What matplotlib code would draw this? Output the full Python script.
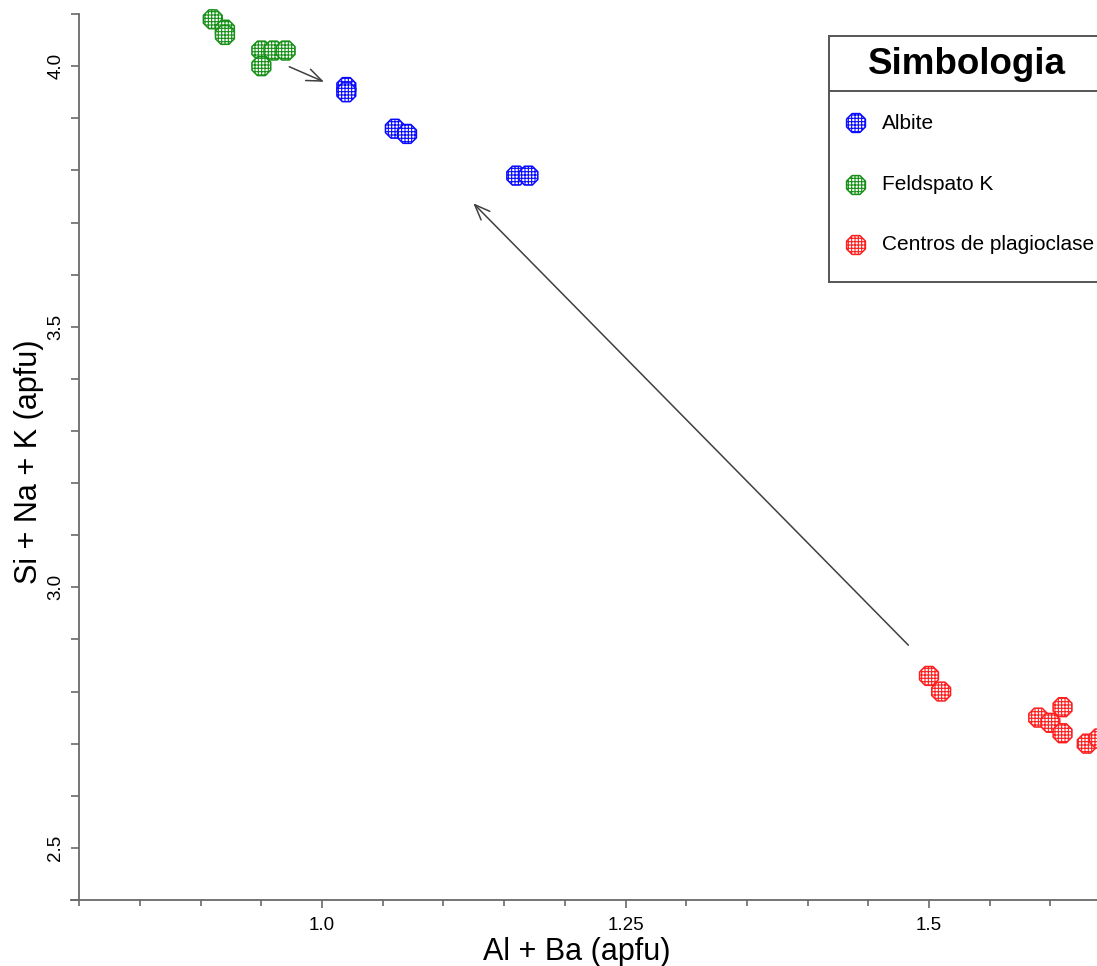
import matplotlib
matplotlib.use("Agg")
import matplotlib.pyplot as plt
from matplotlib.ticker import MultipleLocator, FixedLocator

plt.rcParams['font.family'] = ['Liberation Sans', 'DejaVu Sans']
plt.rcParams['hatch.linewidth'] = 0.8

# Feldspar analyses (apfu)
albite_x = [1.02, 1.02, 1.06, 1.07, 1.16, 1.17]
albite_y = [3.96, 3.95, 3.88, 3.87, 3.79, 3.79]
kfs_x = [0.91, 0.92, 0.92, 0.95, 0.96, 0.97, 0.95]
kfs_y = [4.09, 4.07, 4.06, 4.03, 4.03, 4.03, 4.00]
plag_x = [1.50, 1.51, 1.59, 1.60, 1.61, 1.61, 1.63, 1.64]
plag_y = [2.83, 2.80, 2.75, 2.74, 2.77, 2.72, 2.70, 2.71]

series_names = ["Albite", "Feldspato K", "Centros de plagioclase"]
series_colors = ["#0a0aff", "#179017", "#ff1e1e"]

x_major_ticks = [1.0, 1.25, 1.5]
x_major_labels = ["1.0", "1.25", "1.5"]
y_major_ticks = [2.5, 3.0, 3.5, 4.0]
y_major_labels = ["2.5", "3.0", "3.5", "4.0"]

# trend arrows: (tail, head)
arrow_kfs = ((0.973, 3.999), (1.0016, 3.970))
arrow_plag = ((1.483, 2.889), (1.1246, 3.737))

W, H = 1097, 966
AXC = "#6a6a6a"
fig = plt.figure(figsize=(W / 100, H / 100), dpi=100)
ax = fig.add_axes([71 / W, 66 / H, 1 - 71 / W, 1 - 66 / H])
ax.set_xlim(0.7932, 1.6384)
ax.set_ylim(2.4, 4.127)

for s in ("top", "right"):
    ax.spines[s].set_visible(False)
for s in ("left", "bottom"):
    ax.spines[s].set_color(AXC)
    ax.spines[s].set_linewidth(1.3)
ax.spines["left"].set_position(("data", 0.8))
ax.spines["left"].set_bounds(2.4, 4.1)

ax.xaxis.set_major_locator(FixedLocator(x_major_ticks))
ax.set_xticklabels(x_major_labels)
ax.xaxis.set_minor_locator(MultipleLocator(0.05))
ax.yaxis.set_major_locator(FixedLocator(y_major_ticks))
ax.set_yticklabels(y_major_labels)
ax.yaxis.set_minor_locator(FixedLocator([2.4 + 0.1 * i for i in range(18)]))

ax.tick_params(axis="x", which="major", length=5.5, width=1.2, color=AXC,
               labelsize=13.5, pad=6.5)
ax.tick_params(axis="x", which="minor", length=4.5, width=1.2, color=AXC)
ax.tick_params(axis="y", which="both", length=5.8, width=1.2, color=AXC,
               labelsize=13.5, pad=5, labelrotation=90)
for lab in ax.get_yticklabels():
    lab.set_va("center")

ax.set_xlabel("Al + Ba (apfu)", fontsize=22, va="baseline")
ax.xaxis.set_label_coords((577 - 71) / 1026, -60 / 900)
ax.set_ylabel("Si + Na + K (apfu)", fontsize=22, va="center")
ax.yaxis.set_label_coords((29 - 71) / 1026, (900 - 462) / 900)

MARK = dict(marker="8", s=215, facecolors="white", linewidths=1.1,
            hatch="+++++", zorder=3)

groups = [(albite_x, albite_y), (kfs_x, kfs_y), (plag_x, plag_y)]
for (gx, gy), c in zip(groups, series_colors):
    ax.scatter(gx, gy, edgecolors=c, clip_on=False, **MARK)

ARROW = dict(arrowstyle="->,head_length=0.55,head_width=0.22",
             color="#404040", lw=1.1, mutation_scale=20,
             shrinkA=0, shrinkB=0)
for tail, head in (arrow_kfs, arrow_plag):
    ax.annotate("", xy=head, xytext=tail, arrowprops=ARROW, zorder=2)

# Legend panel: its own axes laid out in pixel units, running off the right edge
L, T, R, B = 829, 36, 1200, 282
lax = fig.add_axes([L / W, 1 - B / H, (R - L) / W, (B - T) / H], zorder=10)
lax.set_xlim(L, R)
lax.set_ylim(B, T)
lax.set_xticks([])
lax.set_yticks([])
lax.set_facecolor("white")
for sp in lax.spines.values():
    sp.set_color("#555555")
    sp.set_linewidth(1.4)
lax.axhline(91, color="#555555", linewidth=1.4)
lax.text(967, 64, "Simbologia", fontsize=26.5, fontweight="bold",
         ha="center", va="center")

entry_y = [123, 185, 245]
for name, c, py in zip(series_names, series_colors, entry_y):
    lax.scatter([856], [py], edgecolors=c, clip_on=False, **MARK)
    lax.text(882, py, name, fontsize=15, ha="left", va="center")

fig.savefig("out.png", dpi=100)
